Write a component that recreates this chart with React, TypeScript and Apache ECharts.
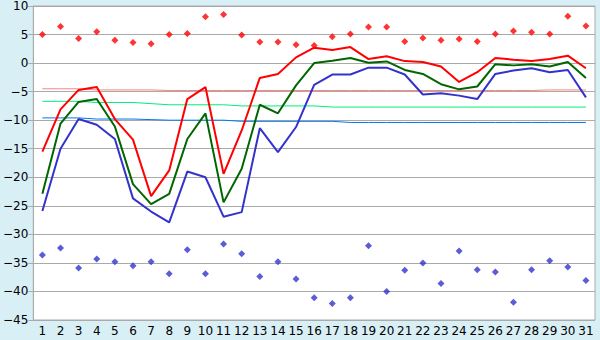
import React, { useEffect, useRef } from "react";
import * as echarts from "echarts";

const days = ["1","2","3","4","5","6","7","8","9","10","11","12","13","14","15","16","17","18","19","20","21","22","23","24","25","26","27","28","29","30","31"];

const maxTemp = [-15.5, -8.1, -4.7, -4.2, -9.8, -13.4, -23.3, -18.8, -6.3, -4.2, -19.4, -11.8, -2.6, -1.9, 1.0, 2.7, 2.3, 2.8, 0.7, 1.2, 0.35, 0.2, -0.6, -3.3, -1.6, 0.9, 0.6, 0.35, 0.7, 1.3, -0.9];
const meanTemp = [-22.9, -10.6, -6.8, -6.3, -11.1, -21.2, -24.7, -22.9, -13.3, -8.8, -24.4, -18.5, -7.3, -8.8, -3.9, 0.0, 0.4, 0.9, 0.05, 0.3, -1.2, -1.9, -3.7, -4.6, -4.1, -0.2, -0.4, -0.2, -0.6, 0.2, -2.6];
const minTemp = [-25.9, -15.0, -9.8, -10.8, -13.3, -23.7, -26.0, -27.9, -19.0, -20.0, -26.9, -26.1, -11.4, -15.6, -11.2, -3.8, -2.0, -2.0, -0.8, -0.8, -2.0, -5.5, -5.3, -5.7, -6.3, -1.9, -1.3, -0.9, -1.6, -1.2, -6.0];
const recordMax = [5.0, 6.4, 4.3, 5.5, 4.0, 3.6, 3.4, 5.0, 5.2, 8.1, 8.5, 4.9, 3.7, 3.7, 3.2, 3.1, 4.6, 5.1, 6.3, 6.3, 3.8, 4.4, 4.0, 4.2, 3.8, 5.1, 5.6, 5.4, 5.1, 8.2, 6.5];
const recordMin = [-33.6, -32.4, -35.9, -34.3, -34.8, -35.5, -34.8, -36.9, -32.7, -36.9, -31.7, -33.4, -37.4, -34.8, -37.8, -41.1, -42.1, -41.1, -32.0, -40.0, -36.3, -35.0, -38.6, -32.9, -36.2, -36.6, -41.9, -36.2, -34.6, -35.7, -38.1];
const normalMax = [-4.5, -4.5, -4.5, -4.7, -4.7, -4.7, -4.7, -4.8, -4.8, -4.8, -4.8, -4.8, -4.8, -4.8, -4.8, -4.8, -4.8, -4.8, -4.8, -4.8, -4.8, -4.8, -4.8, -4.8, -4.8, -4.8, -4.8, -4.8, -4.7, -4.7, -4.7];
const normalMean = [-6.7, -6.7, -6.7, -6.9, -6.9, -6.9, -7.1, -7.3, -7.3, -7.3, -7.3, -7.5, -7.5, -7.5, -7.5, -7.5, -7.7, -7.7, -7.7, -7.7, -7.7, -7.7, -7.7, -7.7, -7.7, -7.7, -7.7, -7.7, -7.7, -7.7, -7.7];
const normalMin = [-9.6, -9.6, -9.6, -9.8, -9.8, -9.8, -9.9, -10.0, -10.0, -10.0, -10.0, -10.2, -10.2, -10.2, -10.2, -10.2, -10.2, -10.4, -10.4, -10.4, -10.4, -10.4, -10.4, -10.4, -10.4, -10.4, -10.4, -10.4, -10.4, -10.4, -10.4];

const FONT = "DejaVu Sans";

export default function App() {
  const ref = useRef<HTMLDivElement>(null);
  useEffect(() => {
    if (!ref.current) return;
    const chart = echarts.init(ref.current, null, { renderer: "svg" });
    const thin = (name: string, data: number[], color: string) => ({
      name, type: "line", data, symbol: "none", silent: true,
      lineStyle: { color, width: 1 }, z: 2,
    });
    const thick = (name: string, data: number[], color: string) => ({
      name, type: "line", data, symbol: "none", silent: true,
      lineStyle: { color, width: 2 }, z: 3,
    });
    const dots = (name: string, data: number[], color: string) => ({
      name, type: "scatter", data, symbol: "diamond", symbolSize: 7,
      itemStyle: { color }, z: 4,
    });
    chart.setOption({
      animation: false,
      backgroundColor: "#d9eff6",
      grid: {
        left: 26, right: 5, top: 5, bottom: 20, show: true,
        backgroundColor: "#ffffff", borderColor: "#aaaaaa", borderWidth: 1,
      },
      xAxis: {
        type: "category", data: days, boundaryGap: true,
        axisLine: { lineStyle: { color: "#aaaaaa" } },
        axisTick: { alignWithLabel: true, length: 5, lineStyle: { color: "#555555" } },
        axisLabel: { interval: 0, margin: 5, color: "#000", fontFamily: FONT, fontSize: 12 },
        splitLine: { show: false },
      },
      yAxis: {
        type: "value", min: -45, max: 10, interval: 5,
        axisLine: { show: true, lineStyle: { color: "#aaaaaa" } },
        axisTick: { show: true, length: 5, lineStyle: { color: "#aaaaaa" } },
        axisLabel: {
          margin: 5, color: "#000", fontFamily: FONT, fontSize: 12,
          formatter: (v: number) => String(v).replace("-", "\u2212"),
        },
        splitLine: { lineStyle: { color: "#aaaaaa", width: 1 } },
      },
      series: [
        thin("Normale max", normalMax, "#ff8080"),
        thin("Normale moy", normalMean, "#00ee77"),
        thin("Normale min", normalMin, "#0077ee"),
        thick("Max", maxTemp, "#ff0000"),
        thick("Moy", meanTemp, "#006600"),
        thick("Min", minTemp, "#3333cc"),
        dots("Record max", recordMax, "#ff0000"),
        dots("Record min", recordMin, "#3333cc"),
      ],
    });
    return () => chart.dispose();
  }, []);
  return <div ref={ref} style={{ position: "fixed", left: 0, top: 0, width: 600, height: 340 }} />;
}
